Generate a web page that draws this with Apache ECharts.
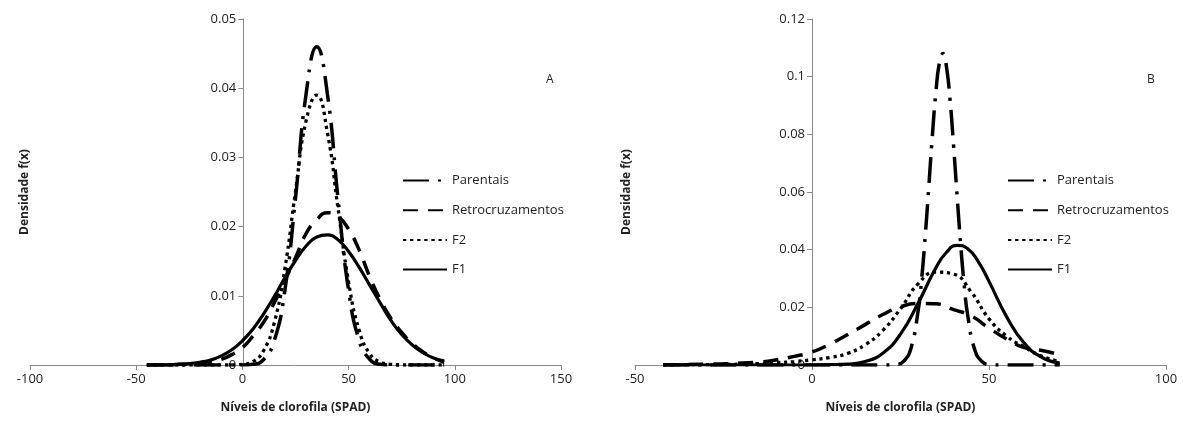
<!DOCTYPE html>
<html>
<head>
<meta charset="utf-8">
<script src="https://cdn.jsdelivr.net/npm/echarts@6/dist/echarts.min.js"></script>
<style>
html, body { margin: 0; padding: 0; background: #fff; }
#chart { width: 1183px; height: 422px; }
</style>
</head>
<body>
<div id="chart"></div>
<script>
// painel A - niveis de clorofila (SPAD) x densidade
const xA = [-45, -40, -35, -30, -25, -20, -15, -10, -5, 0, 5, 10, 15, 20, 25, 30, 35, 40, 45, 50, 55, 60, 65, 70, 75, 80, 85, 90, 95];
const parentaisA = [0, 0, 0, 0, 0, 0, 0, 0, 0, 0, 0.0001, 0.0008, 0.0035, 0.0108, 0.0241, 0.0392, 0.046, 0.0392, 0.0241, 0.0108, 0.0035, 0.0008, 0.0001, 0, 0, 0, 0, 0, 0];
const retroA = [0, 0, 0, 0.0001, 0.0001, 0.0002, 0.0004, 0.0008, 0.0015, 0.0025, 0.0042, 0.0062, 0.009, 0.0122, 0.0155, 0.019, 0.021, 0.022, 0.0215, 0.0196, 0.0166, 0.0127, 0.0094, 0.0067, 0.0047, 0.0031, 0.0019, 0.001, 0.0004];
const f2A = [0, 0, 0, 0, 0, 0, 0, 0, 0, 0.0001, 0.0005, 0.0021, 0.0061, 0.0139, 0.0251, 0.0353, 0.039, 0.0336, 0.0227, 0.012, 0.005, 0.0016, 0.0004, 0.0001, 0, 0, 0, 0, 0];
const f1A = [0, 0, 0, 0.0001, 0.0002, 0.0004, 0.0007, 0.0013, 0.0022, 0.0035, 0.0052, 0.0074, 0.0099, 0.0126, 0.0151, 0.0172, 0.0185, 0.0188, 0.0181, 0.0164, 0.0141, 0.0115, 0.0089, 0.0064, 0.0044, 0.0029, 0.0018, 0.001, 0.0006];

// painel B
const xB = [-42, -40, -35, -30, -25, -20, -15, -10, -5, 0, 5, 10, 15, 20, 25, 30, 35, 40, 45, 50, 55, 60, 65, 70];
const xParentaisB = [-42, 20, 24, 26, 28, 30, 31, 32, 33, 34, 35, 36, 37, 38, 39, 40, 41, 42, 43, 44, 46, 48, 50, 54, 70];
const parentaisB = [0, 0, 0.0002, 0.0014, 0.006, 0.019, 0.0302, 0.0449, 0.062, 0.0795, 0.0946, 0.1049, 0.108, 0.1033, 0.0919, 0.076, 0.0585, 0.0418, 0.0277, 0.0171, 0.0052, 0.0012, 0.0002, 0, 0];
const retroB = [0.0001, 0.0001, 0.0002, 0.0003, 0.0004, 0.0007, 0.001, 0.0018, 0.003, 0.0045, 0.0072, 0.0105, 0.014, 0.0175, 0.0202, 0.0213, 0.0212, 0.0192, 0.017, 0.0128, 0.009, 0.006, 0.005, 0.0036];
const f2B = [0, 0, 0.0001, 0.0001, 0.0002, 0.0003, 0.0005, 0.0008, 0.0012, 0.0018, 0.0026, 0.004, 0.007, 0.012, 0.0195, 0.0282, 0.0322, 0.0315, 0.0253, 0.016, 0.01, 0.0062, 0.003, 0.0012];
const xF1B = [-42, 0, 5, 10, 15, 20, 25, 30, 35, 38, 41, 44, 47, 50, 55, 60, 65, 70];
const f1B = [0, 0, 0.0001, 0.0003, 0.0012, 0.0041, 0.0107, 0.0215, 0.0337, 0.0391, 0.0415, 0.0403, 0.0358, 0.029, 0.0167, 0.0075, 0.0026, 0.0007];

const seriesNames = ['Parentais', 'Retrocruzamentos', 'F2', 'F1'];

const FONT = '"Open Sans", "Noto Sans", sans-serif';
const AXIS_COLOR = '#8a8a8a';
const TEXT_COLOR = '#222';

// estilo de cada curva (traço)
const lineStyles = {
    'Parentais': { color: '#000', width: 3.5, type: [26, 9, 3, 9] },
    'Retrocruzamentos': { color: '#000', width: 3.5, type: [15, 10] },
    'F2': { color: '#000', width: 3.3, type: [3.3, 3.8] },
    'F1': { color: '#000', width: 3.2, type: 'solid' }
};

const pairs = (xs, ys) => xs.map((x, i) => [x, ys[i]]);

function makeXAxis(gridIndex, min, max) {
    return {
        type: 'value', gridIndex: gridIndex, min: min, max: max, interval: 50,
        name: 'Níveis de clorofila (SPAD)', nameLocation: 'middle', nameGap: 37,
        nameTextStyle: { fontWeight: 'bold', fontSize: 12, color: TEXT_COLOR, fontFamily: FONT },
        axisLine: { show: true, onZero: false, lineStyle: { color: AXIS_COLOR, width: 1 } },
        axisTick: { show: true, length: 5, lineStyle: { color: AXIS_COLOR } },
        axisLabel: { fontSize: 13, color: TEXT_COLOR, margin: 8, fontFamily: FONT },
        splitLine: { show: false }
    };
}

// eixo y cruza o eixo x em zero: desloca o eixo para dentro do grid
function makeYAxis(gridIndex, max, interval, shift, gap) {
    return {
        type: 'value', gridIndex: gridIndex, min: 0, max: max, interval: interval,
        position: 'left', offset: -shift,
        name: 'Densidade f(x)', nameLocation: 'middle', nameGap: gap, nameRotate: 90,
        nameTextStyle: { fontWeight: 'bold', fontSize: 12, color: TEXT_COLOR, fontFamily: FONT },
        axisLine: { show: true, onZero: false, lineStyle: { color: AXIS_COLOR, width: 1 } },
        axisTick: { show: true, length: 5, lineStyle: { color: AXIS_COLOR } },
        axisLabel: { fontSize: 13, color: TEXT_COLOR, margin: 7, fontFamily: FONT },
        splitLine: { show: false }
    };
}

function makeSeries(name, data, idx) {
    return {
        name: name, type: 'line', xAxisIndex: idx, yAxisIndex: idx,
        data: data, symbol: 'none', smooth: 0.5,
        lineStyle: lineStyles[name], itemStyle: { color: '#000' },
        emphasis: { disabled: true }, animation: false
    };
}

function makeLegend(left) {
    return {
        data: seriesNames, orient: 'vertical', left: left, top: 169,
        itemWidth: 44, itemHeight: 14, itemGap: 16.7, selectedMode: false,
        itemStyle: { opacity: 0 },
        textStyle: { fontSize: 13, color: TEXT_COLOR, fontFamily: FONT }
    };
}

const chart = echarts.init(document.getElementById('chart'));
chart.setOption({
    backgroundColor: '#fff',
    animation: false,
    grid: [
        { left: 30, top: 19, width: 531, height: 346, outerBoundsMode: 'none' },
        { left: 635, top: 19, width: 531, height: 346, outerBoundsMode: 'none' }
    ],
    xAxis: [makeXAxis(0, -100, 150), makeXAxis(1, -50, 100)],
    yAxis: [makeYAxis(0, 0.05, 0.01, 213.3, 213), makeYAxis(1, 0.12, 0.02, 177, 179)],
    legend: [makeLegend(397), makeLegend(1002)],
    graphic: [
        { type: 'text', left: 546, top: 74, style: { text: 'A', fontSize: 12, fill: TEXT_COLOR, fontFamily: FONT } },
        { type: 'text', left: 1147, top: 74, style: { text: 'B', fontSize: 12, fill: TEXT_COLOR, fontFamily: FONT } }
    ],
    series: [
        makeSeries('Parentais', pairs(xA, parentaisA), 0),
        makeSeries('Retrocruzamentos', pairs(xA, retroA), 0),
        makeSeries('F2', pairs(xA, f2A), 0),
        makeSeries('F1', pairs(xA, f1A), 0),
        makeSeries('Parentais', pairs(xParentaisB, parentaisB), 1),
        makeSeries('Retrocruzamentos', pairs(xB, retroB), 1),
        makeSeries('F2', pairs(xB, f2B), 1),
        makeSeries('F1', pairs(xF1B, f1B), 1)
    ]
});
</script>
</body>
</html>
